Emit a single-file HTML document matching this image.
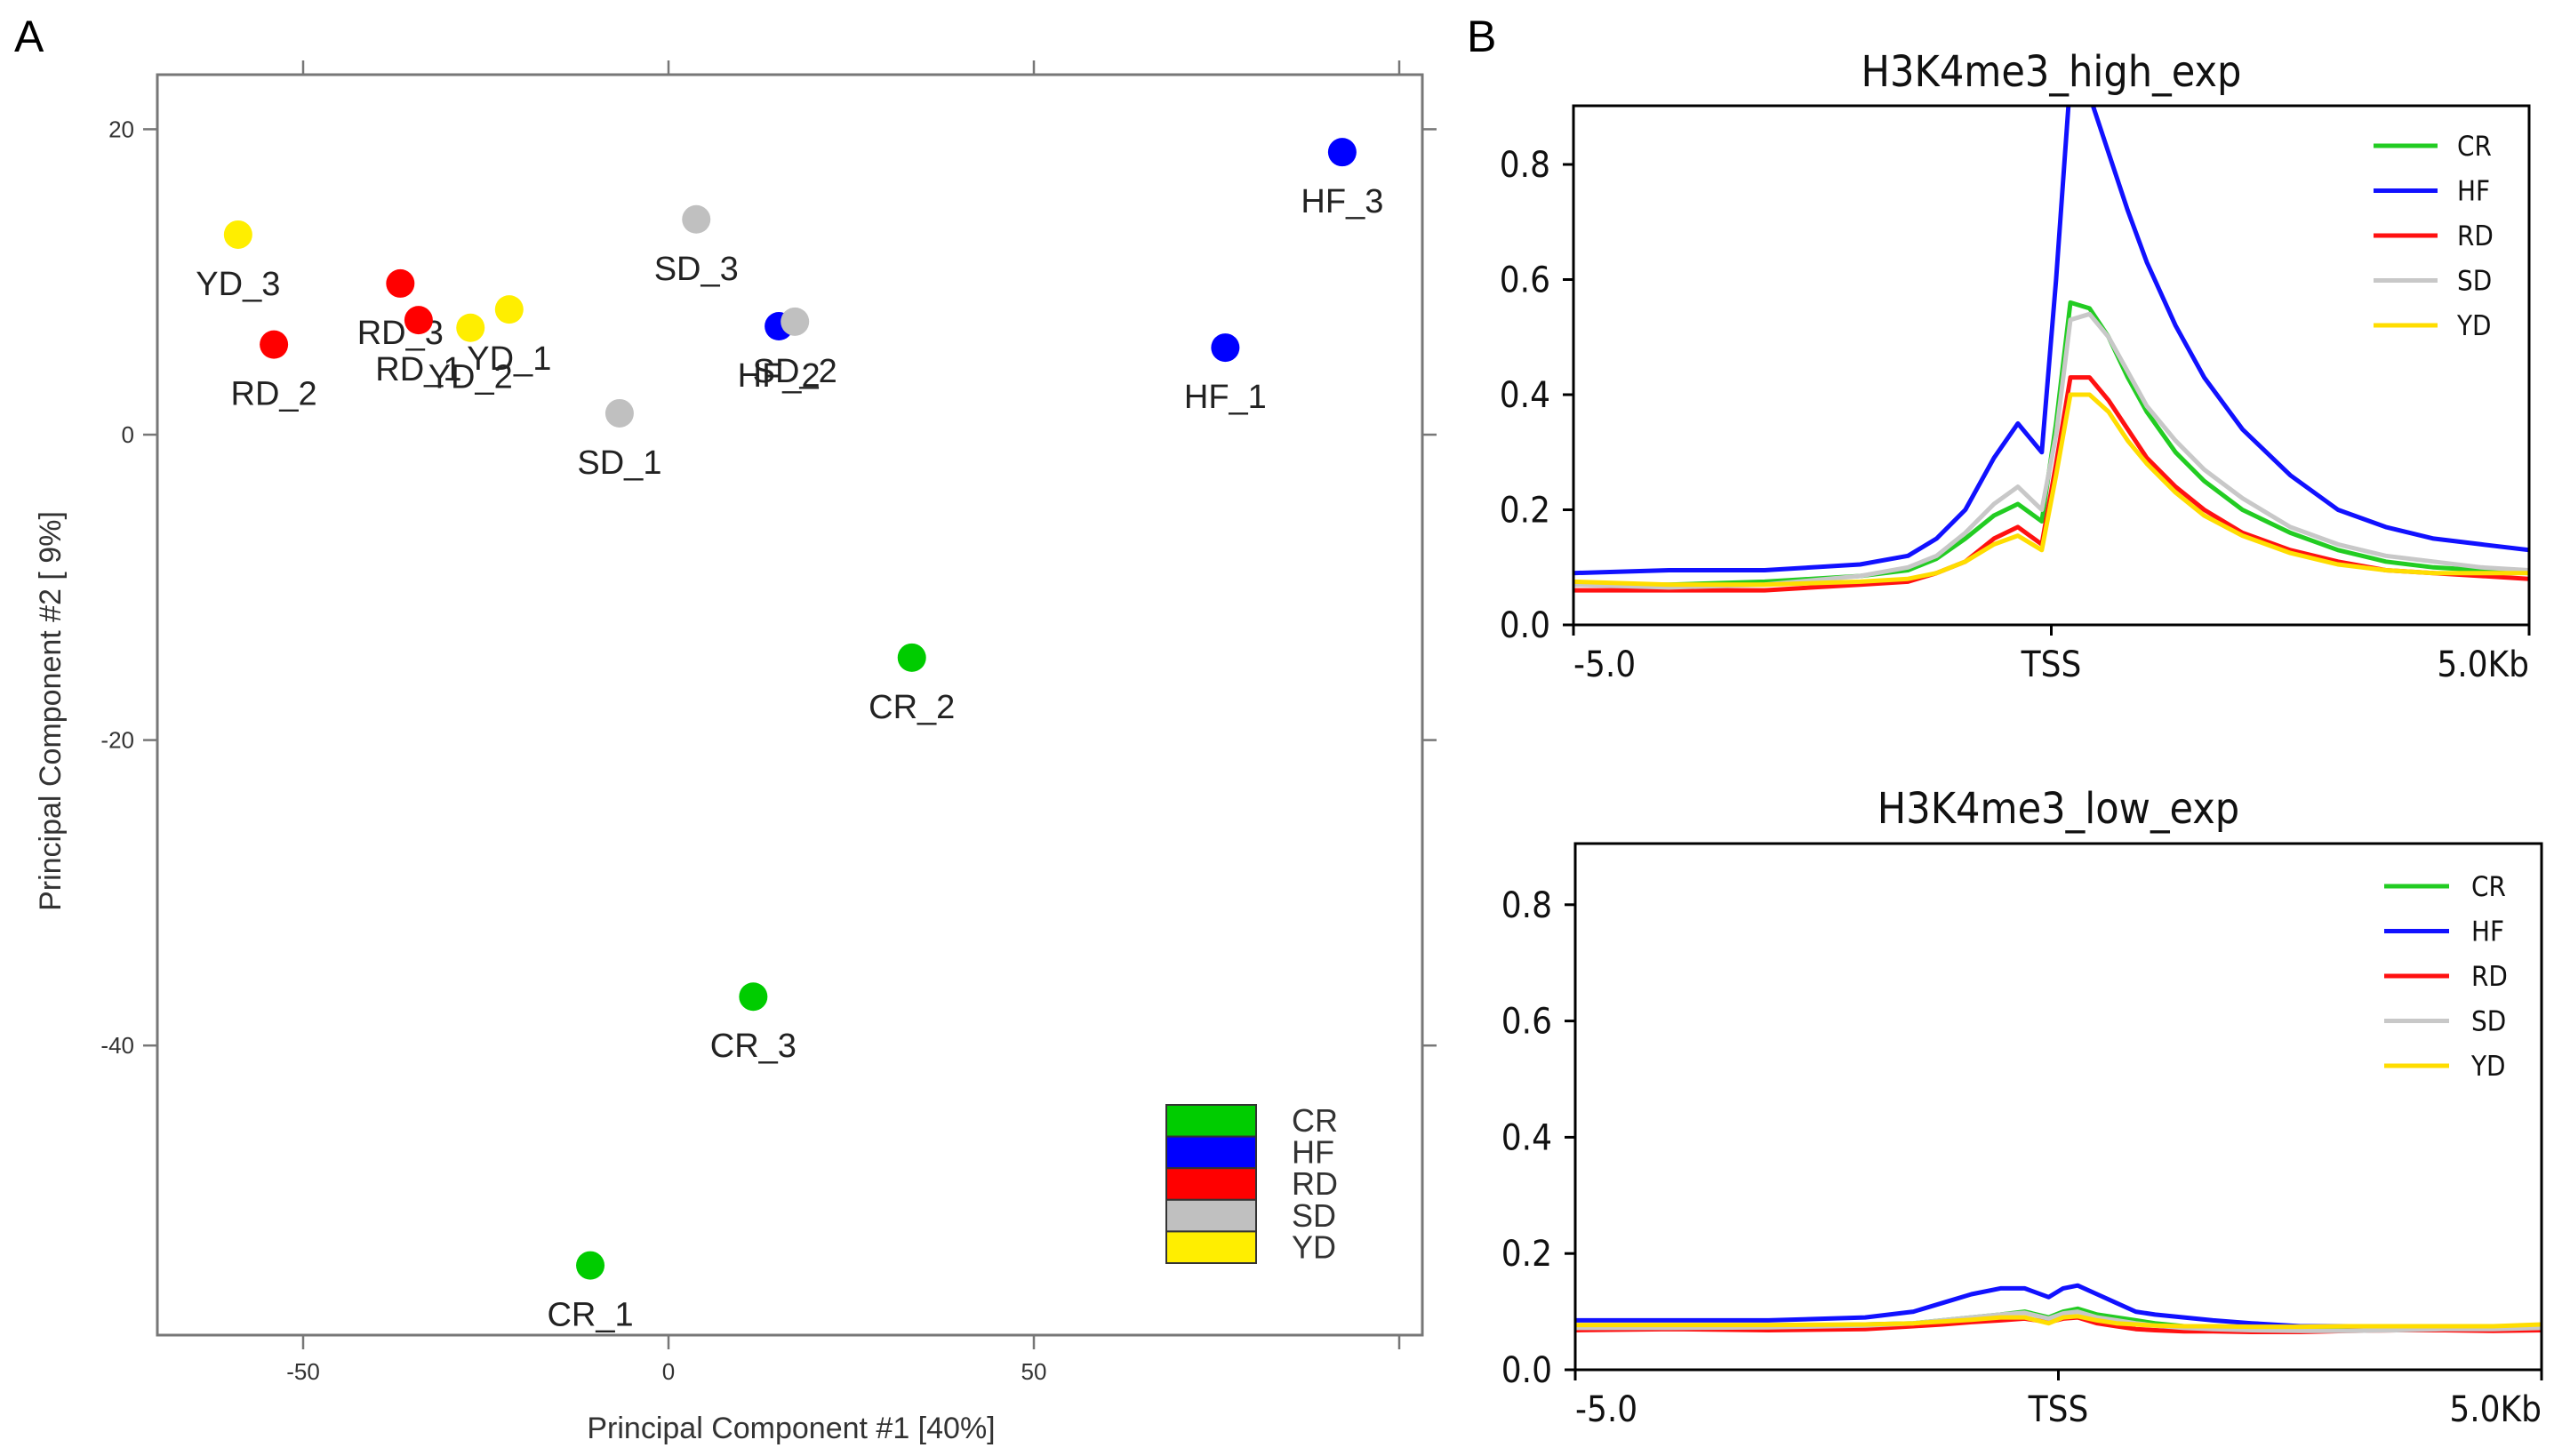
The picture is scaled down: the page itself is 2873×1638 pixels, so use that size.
<!DOCTYPE html>
<html><head><meta charset="utf-8">
<style>
html,body{margin:0;padding:0;background:#fff;}
svg{display:block;}
.pca{font-family:"Liberation Sans",sans-serif;}
.prof{font-family:"DejaVu Sans Condensed","DejaVu Sans","Liberation Sans",sans-serif;}
</style></head>
<body>
<svg id="fig" width="2873" height="1638" viewBox="0 0 2873 1638" xmlns="http://www.w3.org/2000/svg">
<text x="16" y="58" font-family="Liberation Sans, sans-serif" font-size="50">A</text>
<text x="1650" y="58" font-family="Liberation Sans, sans-serif" font-size="50">B</text>
<g id="pca" class="pca"></g>
<g id="top" class="prof"></g>
<g id="bot" class="prof"></g>
</svg>
<script>
// ---- PCA data ----
const sampleNames = ["YD_3","RD_2","RD_3","RD_1","YD_2","YD_1","SD_3","SD_1","HF_2","SD_2","HF_3","HF_1","CR_2","CR_3","CR_1"];
const sampleGroups = ["YD","RD","RD","RD","YD","YD","SD","SD","HF","SD","HF","HF","CR","CR","CR"];
const pc1Values = [-58.9,-54,-36.7,-34.2,-27.1,-21.8,3.8,-6.7,15.1,17.3,92.2,76.2,33.3,11.6,-10.7];
const pc2Values = [13.1,5.9,9.9,7.5,7.0,8.2,14.1,1.4,7.1,7.4,18.5,5.7,-14.6,-36.8,-54.4];
const pcaXTicks = [-50,0,50,100];
const pcaYTicks = [20,0,-20,-40];
const groupNames = ["CR","HF","RD","SD","YD"];
const groupColors = {CR:"#00cc00",HF:"#0000ff",RD:"#ff0000",SD:"#c0c0c0",YD:"#ffee00"};

// ---- profile data ----
const profX = [-5,-4,-3,-2,-1.5,-1.2,-0.9,-0.6,-0.35,-0.1,0.05,0.2,0.4,0.6,0.8,1.0,1.3,1.6,2.0,2.5,3.0,3.5,4.0,4.5,5.0];
const highCR = [0.07,0.07,0.075,0.085,0.095,0.115,0.15,0.19,0.21,0.18,0.35,0.56,0.55,0.5,0.43,0.37,0.3,0.25,0.2,0.16,0.13,0.11,0.1,0.095,0.09];
const highHF = [0.09,0.095,0.095,0.105,0.12,0.15,0.2,0.29,0.35,0.30,0.6,0.95,0.92,0.82,0.72,0.63,0.52,0.43,0.34,0.26,0.2,0.17,0.15,0.14,0.13];
const highRD = [0.06,0.06,0.06,0.07,0.075,0.09,0.11,0.15,0.17,0.14,0.28,0.43,0.43,0.39,0.34,0.29,0.24,0.2,0.16,0.13,0.11,0.095,0.09,0.085,0.08];
const highSD = [0.07,0.065,0.07,0.085,0.1,0.12,0.16,0.21,0.24,0.2,0.33,0.53,0.54,0.5,0.44,0.38,0.32,0.27,0.22,0.17,0.14,0.12,0.11,0.1,0.095];
const highYD = [0.075,0.07,0.07,0.075,0.08,0.09,0.11,0.14,0.155,0.13,0.26,0.40,0.40,0.37,0.32,0.28,0.23,0.19,0.155,0.125,0.105,0.095,0.09,0.09,0.09];
const lowCR = [0.075,0.075,0.075,0.078,0.08,0.085,0.09,0.095,0.1,0.09,0.1,0.105,0.095,0.09,0.085,0.08,0.075,0.075,0.072,0.07,0.07,0.07,0.072,0.072,0.075];
const lowHF = [0.085,0.085,0.085,0.09,0.1,0.115,0.13,0.14,0.14,0.125,0.14,0.145,0.13,0.115,0.1,0.095,0.09,0.085,0.08,0.075,0.075,0.075,0.075,0.075,0.075];
const lowRD = [0.068,0.07,0.068,0.07,0.075,0.078,0.082,0.085,0.088,0.082,0.088,0.09,0.08,0.075,0.07,0.068,0.066,0.066,0.065,0.065,0.067,0.068,0.068,0.067,0.068];
const lowSD = [0.072,0.072,0.073,0.076,0.08,0.085,0.09,0.095,0.098,0.088,0.097,0.1,0.09,0.085,0.08,0.076,0.072,0.07,0.068,0.067,0.067,0.068,0.07,0.07,0.072];
const lowYD = [0.077,0.077,0.077,0.078,0.08,0.083,0.086,0.09,0.09,0.08,0.09,0.092,0.085,0.08,0.078,0.076,0.075,0.075,0.074,0.074,0.075,0.075,0.075,0.075,0.078];
const profYTicks = [0.0,0.2,0.4,0.6,0.8];
const profXTickLabels = ["-5.0","TSS","5.0Kb"];

const NS="http://www.w3.org/2000/svg";
function mk(tag, attrs, parent, text){
  const e=document.createElementNS(NS,tag);
  for(const k in attrs) e.setAttribute(k,attrs[k]);
  if(text!==undefined) e.textContent=text;
  parent.appendChild(e); return e;
}

// ---- PCA ----
(function(){
  const g=document.getElementById('pca');
  const L=177,R=1600,T=84,B=1502;
  const xS=v=>752+v*8.22, yS=v=>489-v*17.18;
  const box=mk('rect',{x:L,y:T,width:R-L,height:B-T,fill:'none',stroke:'#777','stroke-width':3},g);
  
  
  pcaXTicks.forEach(t=>{
    const x=xS(t);
    const t1=mk('line',{x1:x,x2:x,y1:B,y2:B+16,stroke:'#777','stroke-width':2.5},g);
    
    
    const t2=mk('line',{x1:x,x2:x,y1:T,y2:T-16,stroke:'#777','stroke-width':2.5},g);
    
    
    if(t<100){
      const lb=mk('text',{x:x,y:B+50,'font-size':26,'text-anchor':'middle',fill:'#333'},g,String(t));
      
      
    }
  });
  pcaYTicks.forEach(t=>{
    const y=yS(t);
    const t1=mk('line',{x1:L,x2:L-16,y1:y,y2:y,stroke:'#777','stroke-width':2.5},g);
    
    
    const t2=mk('line',{x1:R,x2:R+16,y1:y,y2:y,stroke:'#777','stroke-width':2.5},g);
    
    
    const lb=mk('text',{x:L-26,y:y+9,'font-size':26,'text-anchor':'end',fill:'#333'},g,String(t));
    
    
  });
  const xt=mk('text',{x:890,y:1618,'font-size':34,'text-anchor':'middle',fill:'#333'},g,'Principal Component #1 [40%]');
  
  
  const yt=mk('text',{x:0,y:0,'font-size':34,'text-anchor':'middle',fill:'#333',transform:'translate(68,800) rotate(-90)'},g,'Principal Component #2 [ 9%]');
  
  
  sampleNames.forEach((n,i)=>{
    const cx=xS(pc1Values[i]), cy=yS(pc2Values[i]);
    const c=mk('circle',{cx:cx,cy:cy,r:16,fill:groupColors[sampleGroups[i]]},g);
    
    
    const lb=mk('text',{x:cx,y:cy+68,'font-size':38,'text-anchor':'middle',fill:'#222'},g,n);
    
    
  });
  groupNames.forEach((gn,i)=>{
    const r=mk('rect',{x:1312,y:1243+i*35.6,width:101,height:35.6,fill:groupColors[gn],stroke:'#333','stroke-width':2},g);
    
    
    const t=mk('text',{x:1453,y:1273+i*35.6,'font-size':36,fill:'#333'},g,gn);
    
    
  });
})();

// ---- profiles ----
function profile(id,title,cfg,series){
  const g=document.getElementById(id);
  const {L,R,T,B,zeroY,unit,titleY,legY,legX1,legX2,legTX}=cfg;
  const xS=v=>L+(v+5)/10*(R-L), yS=v=>zeroY-v*unit;
  const tt=mk('text',{x:(L+R)/2,y:titleY,'font-size':48,'text-anchor':'middle',fill:'#111'},g,title);
  
  
  const cid='clip-'+id;
  const cp=mk('clipPath',{id:cid},g);
  mk('rect',{x:L,y:T,width:R-L,height:B-T},cp);
  const lg=mk('g',{'clip-path':'url(#'+cid+')'},g);
  series.forEach(s=>{
    const d=profX.map((x,i)=>(i?'L':'M')+xS(x).toFixed(1)+','+yS(s.vals[i]).toFixed(1)).join(' ');
    const p=mk('path',{d:d,fill:'none',stroke:s.color,'stroke-width':5,'stroke-linejoin':'round'},lg);
    
    
  });
  const fr=mk('rect',{x:L,y:T,width:R-L,height:B-T,fill:'none',stroke:'#000','stroke-width':3},g);
  
  
  profYTicks.forEach(t=>{
    const y=yS(t);
    const tk=mk('line',{x1:L,x2:L-12,y1:y,y2:y,stroke:'#000','stroke-width':3},g);
    
    
    const lb=mk('text',{x:L-26,y:y+14,'font-size':40,'text-anchor':'end',fill:'#111'},g,t.toFixed(1));
    
    
  });
  const xpos=[-5,0,5], anc=['start','middle','end'];
  profXTickLabels.forEach((t,i)=>{
    const x=xS(xpos[i]);
    const tk=mk('line',{x1:x,x2:x,y1:B,y2:B+12,stroke:'#000','stroke-width':3},g);
    
    
    const lb=mk('text',{x:x,y:B+58,'font-size':40,'text-anchor':anc[i],fill:'#111'},g,t);
    
    
  });
  series.forEach((s,i)=>{
    const y=legY+i*50.5;
    const ll=mk('line',{x1:legX1,x2:legX2,y1:y,y2:y,stroke:s.color,'stroke-width':5},g);
    
    
    const lt=mk('text',{x:legTX,y:y+11,'font-size':31,fill:'#111'},g,s.name);
    
    
  });
}
const col={CR:"#22cc22",HF:"#1111ff",RD:"#ff1111",SD:"#c8c8c8",YD:"#ffdd00"};
profile('top','H3K4me3_high_exp',{L:1770,R:2845,T:119,B:703,zeroY:703,unit:647.5,titleY:97,legY:164,legX1:2670,legX2:2742,legTX:2764},
 [{name:'CR',vals:highCR,color:col.CR},{name:'HF',vals:highHF,color:col.HF},{name:'RD',vals:highRD,color:col.RD},{name:'SD',vals:highSD,color:col.SD},{name:'YD',vals:highYD,color:col.YD}]);
profile('bot','H3K4me3_low_exp',{L:1772,R:2859,T:949,B:1541,zeroY:1541,unit:654,titleY:926,legY:997,legX1:2682,legX2:2755,legTX:2780},
 [{name:'CR',vals:lowCR,color:col.CR},{name:'HF',vals:lowHF,color:col.HF},{name:'RD',vals:lowRD,color:col.RD},{name:'SD',vals:lowSD,color:col.SD},{name:'YD',vals:lowYD,color:col.YD}]);
</script>
</body></html>
